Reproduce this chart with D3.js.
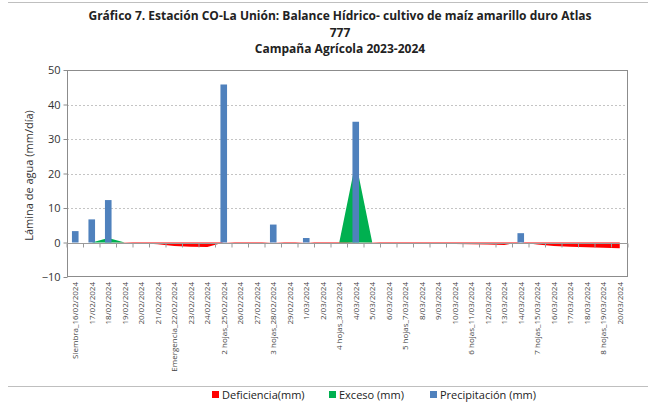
<!DOCTYPE html>
<html><head><meta charset="utf-8">
<script src="https://cdn.jsdelivr.net/npm/d3@7"></script>
<style>body{margin:0;background:#fff;}svg{display:block;font-family:"Open Sans","Liberation Sans",sans-serif;}</style>
</head><body>
<svg id="c" width="648" height="414"></svg>
<script>
const categories = ["Siembra_16/02/2024","17/02/2024","18/02/2024","19/02/2024","20/02/2024","21/02/2024","Emergencia_22/02/2024","23/02/2024","24/02/2024","2 hojas_25/02/2024","26/02/2024","27/02/2024","3 hojas_28/02/2024","29/02/2024","1/03/2024","2/03/2024","4 hojas_3/03/2024","4/03/2024","5/03/2024","6/03/2024","5 hojas_7/03/2024","8/03/2024","9/03/2024","10/03/2024","6 hojas_11/03/2024","12/03/2024","13/03/2024","14/03/2024","7 hojas_15/03/2024","16/03/2024","17/03/2024","18/03/2024","8 hojas_19/03/2024","20/03/2024"];
const precipitacion = [3.3,6.7,12.3,0,0,0,0,0,0,45.8,0,0,5.2,0,1.3,0,0,35.0,0,0,0,0,0,0,0,0,0,2.7,0,0,0,0,0,0];
const exceso = [0,0,1.3,0,0,0,0,0,0,0,0,0,0,0,0,0,0,23.5,0,0,0,0,0,0,0,0,0,0,0,0,0,0,0,0];
const deficiencia = [0,0,0,-0.05,-0.2,-0.5,-1.0,-1.2,-1.3,0,-0.2,-0.2,0,-0.2,0,-0.3,-0.3,0,-0.1,-0.2,-0.2,-0.3,-0.3,-0.4,-0.5,-0.6,-0.7,0,-0.6,-1.0,-1.2,-1.4,-1.5,-1.7];
const yTicks = [-10,0,10,20,30,40,50];
const titleLines = ["Gráfico 7. Estación CO-La Unión: Balance Hídrico- cultivo de maíz amarillo duro Atlas","777","Campaña Agrícola 2023-2024"];
const legendItems = [{name:"Deficiencia(mm)",color:"#FF0000"},{name:"Exceso (mm)",color:"#00B050"},{name:"Precipitación (mm)",color:"#4F81BD"}];

const svg = d3.select("#c");
const L=67,R=628,T=70,B=277;
const xc = d3.scalePoint().domain(categories).range([L,R]).padding(0.5);
const y = d3.scaleLinear().domain([-10,50]).range([B,T]);

// outer frame lines
svg.append("line").attr("x1",8).attr("x2",648).attr("y1",2.5).attr("y2",2.5).attr("stroke","#bfbfbf");
svg.append("line").attr("x1",8).attr("x2",648).attr("y1",386.5).attr("y2",386.5).attr("stroke","#bfbfbf");

// title
svg.append("g").selectAll("text").data(titleLines).join("text")
  .attr("x",340).attr("y",(d,i)=>20+i*16.5).attr("text-anchor","middle")
  .attr("font-size",12).attr("font-weight","bold").attr("fill","#222").text(d=>d);

// gridlines
svg.append("g").selectAll("line").data(yTicks.filter(v=>v!==0&&v!==50&&v!==-10)).join("line")
  .attr("x1",L).attr("x2",R).attr("y1",d=>Math.round(y(d))+0.5).attr("y2",d=>Math.round(y(d))+0.5)
  .attr("stroke","#b5b5b5").attr("stroke-dasharray","2,2").attr("stroke-width",0.8);

// plot frame
svg.append("rect").attr("x",L+0.5).attr("y",T+0.5).attr("width",R-L-1).attr("height",B-T-1)
  .attr("fill","none").attr("stroke","#8c8c8c");

// y axis
const yAxis = d3.axisLeft(y).tickValues(yTicks).tickSize(4).tickFormat(d3.format("d"));
const ga = svg.append("g").attr("transform",`translate(${L+0.5},0)`).call(yAxis);
ga.select(".domain").remove();
ga.selectAll("line").attr("stroke","#8c8c8c");
ga.selectAll("text").attr("font-size",11).attr("fill","#333").attr("font-family","'Open Sans','Liberation Sans',sans-serif");

// y title
svg.append("text").attr("transform",`translate(33,${(T+B)/2+2}) rotate(-90)`).attr("text-anchor","middle")
  .attr("font-size",11).attr("fill","#333").text("Lámina de agua (mm/día)");

// areas
const area = d3.area().x((d,i)=>xc(categories[i])).y0(y(0)).y1(d=>y(d));
svg.append("path").datum(deficiencia).attr("d",area).attr("fill","#FF0000");
svg.append("path").datum(exceso).attr("d",area).attr("fill","#00B050");

// zero axis with ticks
const y0 = Math.round(y(0))+0.5;
svg.append("line").attr("x1",L).attr("x2",R).attr("y1",y0).attr("y2",y0).attr("stroke","#9a9a9a");
const step = (R-L)/categories.length;
svg.append("g").selectAll("line").data(d3.range(categories.length+1)).join("line")
  .attr("x1",i=>L+i*step).attr("x2",i=>L+i*step).attr("y1",y0).attr("y2",y0+4).attr("stroke","#9a9a9a");

// bars
svg.append("g").selectAll("rect").data(precipitacion.map((v,i)=>({c:categories[i],v}))).join("rect")
  .filter(d=>d.v>0)
  .attr("x",d=>xc(d.c)-3.3).attr("width",6.6)
  .attr("y",d=>y(d.v)).attr("height",d=>y(0)-y(d.v)).attr("fill","#4F81BD");

// x labels
svg.append("g").selectAll("text").data(categories).join("text")
  .attr("transform",d=>`translate(${xc(d)+3},${B+5}) rotate(-90)`)
  .attr("text-anchor","end").attr("font-size",8).attr("fill","#444").text(d=>d);

// legend
const lx=[212,329,430];
const lg = svg.append("g").selectAll("g").data(legendItems).join("g").attr("transform",(d,i)=>`translate(${lx[i]},395)`);
lg.append("rect").attr("x",0).attr("y",-4).attr("width",7).attr("height",7).attr("fill",d=>d.color);
lg.append("text").attr("x",10).attr("y",3.5).attr("font-size",11).attr("fill","#222").text(d=>d.name);
</script>
</body></html>
